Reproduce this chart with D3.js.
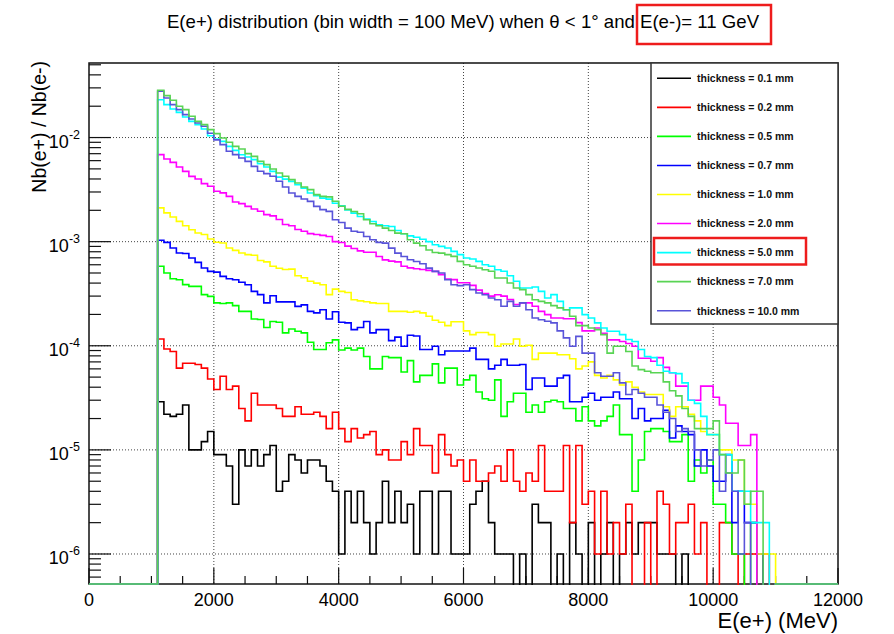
<!DOCTYPE html>
<html>
<head>
<meta charset="utf-8">
<script src="https://cdn.jsdelivr.net/npm/d3@7"></script>
<style>
body { margin: 0; background: #fff; }
text { font-family: "Liberation Sans", Arial, Helvetica, sans-serif; }
</style>
</head>
<body>
<div class="chart"></div>
<script>
// histogram bins: 100 MeV wide, first filled bin starts at 1100 MeV
// counts are given per 1e6 incident electrons
const binStart = 1100
const binWidth = 100
const perElectron = 1e-6

const thicknesses = ["0.1", "0.2", "0.5", "0.7", "1.0", "2.0", "5.0", "7.0", "10.0"]
const colours = ["#000000", "#ff0000", "#00ff00", "#0000ff", "#ffff00", "#ff00ff", "#00ffff", "#59d454", "#5954d9"]

const t01 = [29,22,21,22,27,10,10,12,15,9, 9,7,3,10,7,10,7,9,11,4, 5,9,8,6,8,8,7,5,4,1,
  4,2,4,2,1,2,5,2,4,2, 3,1,4,4,1,4,4,1,1,1, 3,4,5,2,1,1,1,0,1,0, 3,2,2,0,1,0,2,1,0,2,
  0,1,2,0,1,2,1,2,2,2, 1,1,1,0,1,0,0,0,0,0, 0,0,0,0,0,0,0,0,0]
const t02 = [116,93,88,61,68,68,66,61,48,38, 51,38,41,25,19,35,27,27,27,25, 21,21,26,22,22,23,21,16,23,16,
  12,16,13,14,15,9,10,8,8,12, 9,16,11,11,6,14,9,7,8,5, 8,5,5,6,7,5,10,5,4,6, 5,11,4,4,4,11,2,11,3,4,
  1,4,1,2,1,3,0,0,2,0, 4,3,1,2,2,3,1,2,0,0, 2,2,1,0,1,1,0,1,0]
const t05 = [580,500,440,431,387,372,372,310,298,258, 255,258,243,214,214,181,179,150,171,168, 133,145,138,133,108,92,92,107,114,91,
  95,91,95,79,60,60,79,77,77,56, 72,45,52,52,67,44,61,61,42,47, 52,36,31,30,47,21,29,35,35,23, 27,23,29,30,29,25,25,19,26,19,
  17,19,21,27,14,14,4,8,15,16, 16,15,12,12,14,5,8,6,8,3, 3,2,1,1,0,2,0,0,0]
const t07 = [1030,985,870,777,770,697,632,558,518,510, 464,440,431,408,386,333,310,258,302,264, 264,264,239,247,214,207,222,181,212,168,
  166,143,150,171,133,143,143,112,121,99, 126,124,92,92,99,82,89,89,89,89, 95,74,74,60,65,74,65,65,66,38, 49,49,41,41,49,52,29,29,32,35,
  30,32,32,36,31,31,20,25,19,20, 20,24,13,17,15,14,7,10,7,5, 5,9,2,4,2,2,1,0,0]
const t10 = [2110,1890,1725,1567,1424,1303,1210,1170,1062,986, 970,870,825,777,750,740,660,640,580,555, 540,545,470,450,416,400,386,310,350,333,
  325,277,270,265,258,255,255,214,214,214, 210,214,207,192,176,168,156,170,170,139, 128,134,134,128,99,104,104,116,99,101, 74,85,85,85,82,82,75,60,64,70,
  52,49,52,47,42,45,40,36,34,34, 34,26,21,26,26,22,19,15,14,14, 10,10,8,8,3,3,1,1,1]
const t20 = [6860,6230,5780,5210,4730,4240,4000,3610,3400,3045, 2940,2725,2400,2320,2180,2060,1960,1820,1770,1630, 1460,1420,1310,1260,1195,1170,1150,1120,1000,980,
  905,860,815,790,790,720,668,650,640,580, 560,550,540,530,518,482,438,432,403,403, 380,342,318,300,309,300,278,249,258,258, 240,214,199,185,185,182,182,167,139,139,
  148,132,114,114,110,105,99,76,76,71, 77,62,55,41,41,30,30,41,41,32, 27,18,18,11,11,14,0,0,0]
const t50 = [23100,20700,18800,17460,15740,14310,13300,12080,10420,9680, 9190,8230,7530,6840,6500,6130,5610,5210,4730,4170, 3990,3790,3520,3270,2930,2760,2620,2560,2340,2210,
  2020,1880,1745,1645,1563,1452,1420,1400,1280,1190, 1137,1104,1056,1000,935,900,869,807,750,697, 681,647,601,580,538,519,470,416,359,359, 367,333,288,310,267,222,231,231,199,185,
  166,148,138,138,128,115,110,92,79,77, 65,57,55,54,44,30,28,21,14,14, 9,9,4,4,4,2,2,2,0]
const t70 = [28450,25300,22800,19960,18540,16000,14310,13300,11910,10910, 9910,9000,8230,7760,7000,6600,5910,5490,4990,4570, 4250,3940,3660,3350,3160,2830,2725,2690,2445,2190,
  2040,1950,1855,1625,1485,1420,1350,1280,1207,1190, 1042,968,912,832,787,776,750,722,647,601, 580,558,538,519,448,448,401,359,346,310, 277,267,258,243,231,222,192,156,156,148,
  143,128,85,99,99,88,64,59,57,55, 55,45,37,33,25,21,16,16,16,19, 9,6,6,8,3,4,4,0,0]
const t100 = [27800,24000,20700,18540,16600,15070,13800,12820,11000,9500, 8550,7380,6860,6370,5910,5290,4740,4500,4250,3800, 3350,2930,2725,2570,2440,2180,2030,1955,1625,1530,
  1350,1260,1230,1122,1042,984,968,867,776,721, 670,645,614,557,518,500,431,386,378,386, 346,321,309,288,277,240,267,240,258,222, 185,178,172,166,139,119,99,123,85,85,
  55,51,51,55,44,34,38,35,32,32, 27,23,20,15,16,15,10,7,8,10, 4,6,4,1,2,0,0,0,0]

const series = [t01, t02, t05, t07, t10, t20, t50, t70, t100]
// 7.0 mm is drawn last, it sits on top along the bottom axis
const drawOrder = [0, 1, 2, 3, 4, 5, 6, 8, 7]

const xTicks = [0, 2000, 4000, 6000, 8000, 10000, 12000]
const yTicks = [1e-6, 1e-5, 1e-4, 1e-3, 1e-2]
const yExps = ["-6", "-5", "-4", "-3", "-2"]

const svg = d3.select(".chart").append("svg").attr("width", 894).attr("height", 634)
const margin = {top: 63, right: 56, bottom: 50, left: 89}
const graphWidth = 894 - margin.left - margin.right
const graphHeight = 634 - margin.top - margin.bottom

const x = d3.scaleLinear().domain([0, 12000]).range([0, graphWidth])
const y = d3.scaleLog().domain([5.15e-7, 5.2e-2]).range([graphHeight, 0])

// title
svg.append("text").attr("x", 463).attr("y", 28).attr("text-anchor", "middle")
   .attr("font-size", 18.6).attr("fill", "#000")
   .text("E(e+) distribution (bin width = 100 MeV) when \u03b8 < 1\u00b0 and E(e-)= 11 GeV")
svg.append("rect").attr("x", 637).attr("y", 5).attr("width", 134).attr("height", 39)
   .attr("fill", "none").attr("stroke", "#ee1c1c").attr("stroke-width", 2.5)

const graph = svg.append("g").attr("transform", `translate(${margin.left},${margin.top})`)

// grid
graph.selectAll(".xgrid").data(xTicks.filter(d => d > 0 && d < 12000)).enter().append("line")
     .attr("x1", d => x(d)).attr("x2", d => x(d)).attr("y1", 0).attr("y2", graphHeight)
     .attr("stroke", "#444").attr("stroke-dasharray", "1,2")
graph.selectAll(".ygrid").data(yTicks).enter().append("line")
     .attr("x1", 0).attr("x2", graphWidth).attr("y1", d => y(d)).attr("y2", d => y(d))
     .attr("stroke", "#444").attr("stroke-dasharray", "1,2")

// frame
graph.append("rect").attr("width", graphWidth).attr("height", graphHeight)
     .attr("fill", "none").attr("stroke", "#111").attr("stroke-width", 1.5)

// axes ticks
const xMinor = d3.range(0, 12001, 500)
graph.selectAll(".xtick").data(xMinor).enter().append("line")
     .attr("x1", d => x(d)).attr("x2", d => x(d)).attr("y1", graphHeight)
     .attr("y2", d => graphHeight - (d % 2000 === 0 ? 16 : 8))
     .attr("stroke", "#111").attr("stroke-width", 1.2)
const yMinor = []
d3.range(-7, -1).forEach(e => d3.range(1, 10).forEach(k => {
  const v = k * Math.pow(10, e)
  if (v >= y.domain()[0] && v <= y.domain()[1]) yMinor.push(v)
}))
graph.selectAll(".ytick").data(yMinor).enter().append("line")
     .attr("x1", 0).attr("x2", d => yTicks.some(t => Math.abs(t - d) / t < 1e-6) ? 22 : 12)
     .attr("y1", d => y(d)).attr("y2", d => y(d))
     .attr("stroke", "#111").attr("stroke-width", 1.2)

// tick labels
graph.selectAll(".xlab").data(xTicks).enter().append("text")
     .attr("x", d => x(d)).attr("y", graphHeight + 22).attr("text-anchor", "middle")
     .attr("font-size", 18).text(d => d)
const ylab = graph.selectAll(".ylab").data(yTicks).enter().append("text")
     .attr("x", -9).attr("y", d => y(d) + 10).attr("text-anchor", "end").attr("font-size", 18)
ylab.append("tspan").text("10")
ylab.append("tspan").attr("dy", -9).attr("font-size", 12.5).text((d, i) => yExps[i])

// axis titles
svg.append("text").attr("x", 838).attr("y", 628).attr("text-anchor", "end")
   .attr("font-size", 22).text("E(e+) (MeV)")
svg.append("text").attr("transform", "translate(45.5,61) rotate(-90)").attr("text-anchor", "end")
   .attr("font-size", 19.5).text("Nb(e+) / Nb(e-)")

// histograms
graph.append("clipPath").attr("id", "plotclip").append("rect")
     .attr("x", 0).attr("y", -1).attr("width", graphWidth).attr("height", graphHeight + 2)
const stepLine = d3.line().x(d => x(d[0])).y(d => d[1]).curve(d3.curveStepAfter)
function histPoints(vals) {
  const pts = [[0, graphHeight]]
  vals.forEach((v, i) => pts.push([binStart + i * binWidth, v > 0 ? y(v * perElectron) : graphHeight + 5]))
  const end = binStart + vals.length * binWidth
  pts.push([end, graphHeight], [12000, graphHeight])
  return pts
}
const hists = graph.append("g").attr("clip-path", "url(#plotclip)")
drawOrder.forEach(k => {
  hists.append("path").attr("d", stepLine(histPoints(series[k])))
       .attr("fill", "none").attr("stroke", colours[k]).attr("stroke-width", 1.6)
})

// legend
const legendRectSize = 34
const legendSpacing = 29.05
const legend = svg.append("g").attr("transform", "translate(651,63)")
legend.append("rect").attr("width", 187).attr("height", 261)
      .attr("fill", "#fff").attr("stroke", "#333").attr("stroke-width", 1.5)
const entries = legend.selectAll(".legend").data(thicknesses).enter().append("g")
      .attr("transform", (d, i) => `translate(0,${15.3 + i * legendSpacing})`)
entries.append("line").attr("x1", 6).attr("x2", 6 + legendRectSize)
       .attr("stroke", (d, i) => colours[i]).attr("stroke-width", 1.6)
entries.append("text").attr("x", 46).attr("y", 3.8).attr("font-size", 10.5)
       .attr("font-weight", "bold").attr("fill", "#111").text(d => `thickness = ${d} mm`)
legend.append("rect").attr("x", 3).attr("y", 175).attr("width", 152).attr("height", 26.5)
      .attr("fill", "none").attr("stroke", "#ee1c1c").attr("stroke-width", 2.5)
</script>
</body>
</html>
